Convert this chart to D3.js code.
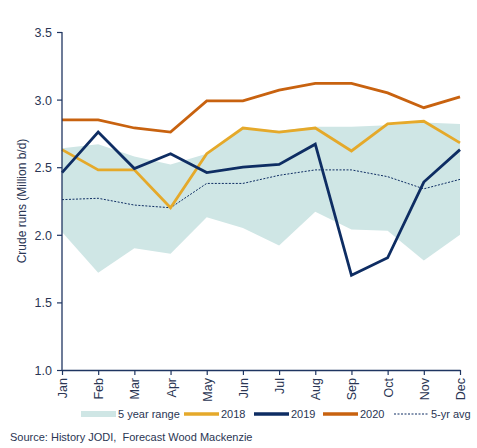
<!DOCTYPE html>
<html>
<head>
<meta charset="utf-8">
<script src="https://cdn.jsdelivr.net/npm/d3@7"></script>
<style>
  body { margin: 0; background: #fff; overflow: hidden; }
  svg { display: block; font-family: "Liberation Sans", Arial, sans-serif; }
</style>
</head>
<body>
<svg width="477" height="448"></svg>
<script>
const months = ['Jan', 'Feb', 'Mar', 'Apr', 'May', 'Jun', 'Jul', 'Aug', 'Sep', 'Oct', 'Nov', 'Dec'];
const rangeLow = [2.02, 1.72, 1.90, 1.86, 2.13, 2.05, 1.92, 2.17, 2.04, 2.03, 1.81, 2.00];
const rangeHigh = [2.64, 2.67, 2.58, 2.52, 2.60, 2.79, 2.77, 2.80, 2.80, 2.81, 2.83, 2.82];
const y2018 = [2.63, 2.48, 2.48, 2.20, 2.60, 2.79, 2.76, 2.79, 2.62, 2.82, 2.84, 2.68];
const y2019 = [2.46, 2.76, 2.49, 2.60, 2.46, 2.50, 2.52, 2.67, 1.70, 1.83, 2.39, 2.63];
const y2020 = [2.85, 2.85, 2.79, 2.76, 2.99, 2.99, 3.07, 3.12, 3.12, 3.05, 2.94, 3.02];
const avg5 = [2.26, 2.27, 2.22, 2.20, 2.38, 2.38, 2.44, 2.48, 2.48, 2.43, 2.34, 2.41];
const yTicks = [1.0, 1.5, 2.0, 2.5, 3.0, 3.5];

const svg = d3.select('svg');
const width = +svg.attr('width');
const height = +svg.attr('height');
const margin = { top: 32, right: 17, bottom: 78, left: 62 };
const innerWidth = width - margin.left - margin.right;
const innerHeight = height - margin.top - margin.bottom;

const navy = '#0e2d63';
const axisColor = '#1f3561';
const textColor = '#2a3553';
const font = '"Liberation Sans", Arial, sans-serif';

const xScale = d3.scalePoint().domain(months).range([0, innerWidth]);
const yScale = d3.scaleLinear().domain([1, 3.5]).range([innerHeight, 0]);

const g = svg.append('g')
  .attr('transform', `translate(${margin.left},${margin.top})`);

// 5 year range band
const band = d3.area()
  .x((d, i) => xScale(months[i]))
  .y0((d, i) => yScale(rangeLow[i]))
  .y1((d, i) => yScale(rangeHigh[i]));

g.append('path')
  .datum(months)
  .attr('d', band)
  .attr('fill', '#cfe6e5');

const line = d3.line().x((d, i) => xScale(months[i])).y(d => yScale(d));

g.append('path').datum(avg5).attr('d', line)
  .attr('fill', 'none').attr('stroke', navy).attr('stroke-width', 1)
  .attr('stroke-dasharray', '2,1.5');

const series = [
  { values: y2018, color: '#e5a92a' },
  { values: y2019, color: navy },
  { values: y2020, color: '#c8620f' }
];

series.forEach(s => {
  g.append('path').datum(s.values).attr('d', line)
    .attr('fill', 'none').attr('stroke', s.color).attr('stroke-width', 2.8);
});

// axes
const yAxisG = g.append('g')
  .call(d3.axisLeft(yScale).tickValues(yTicks).tickFormat(d3.format('.1f')).tickSize(5).tickPadding(5));
const xAxisG = g.append('g')
  .attr('transform', `translate(0,${innerHeight})`)
  .call(d3.axisBottom(xScale).tickSize(5).tickSizeOuter(0));

[yAxisG, xAxisG].forEach(a => {
  a.attr('font-family', font).attr('font-size', 12.5);
  a.selectAll('.domain').attr('stroke', axisColor).attr('stroke-width', 1.3);
  a.selectAll('.tick line').attr('stroke', axisColor).attr('stroke-width', 1.2);
  a.selectAll('text').attr('fill', textColor);
});

yAxisG.select('.domain').attr('d', `M0,0V${innerHeight}`);
yAxisG.selectAll('.tick text').attr('dy', null).attr('y', 4.5);

xAxisG.selectAll('.tick text')
  .attr('transform', 'rotate(-90)')
  .attr('text-anchor', 'end')
  .attr('x', -8)
  .attr('y', 4.5)
  .attr('dy', null);

svg.append('text')
  .attr('transform', `translate(26,${margin.top + innerHeight / 2}) rotate(-90)`)
  .attr('text-anchor', 'middle')
  .attr('fill', textColor)
  .attr('font-size', 12)
  .text('Crude runs (Million b/d)');

// legend
const legendY = 414;
const legend = [
  { label: '5 year range', x: 81, color: '#cfe6e5', width: 6 },
  { label: '2018', x: 184, color: '#e5a92a', width: 3.5 },
  { label: '2019', x: 254, color: navy, width: 3.5 },
  { label: '2020', x: 323, color: '#c8620f', width: 3.5 },
  { label: '5-yr avg', x: 394, color: navy, width: 1, dash: '2,1.5' }
];
legend.forEach(l => {
  svg.append('line')
    .attr('x1', l.x).attr('x2', l.x + 35)
    .attr('y1', legendY).attr('y2', legendY)
    .attr('stroke', l.color).attr('stroke-width', l.width)
    .attr('stroke-dasharray', l.dash || null);
  svg.append('text')
    .attr('x', l.x + 37).attr('y', legendY + 4)
    .attr('fill', textColor)
    .attr('font-size', 11)
    .text(l.label);
});

svg.append('text')
  .attr('x', 10).attr('y', 441)
  .attr('fill', textColor)
  .attr('font-size', 11)
  .style('white-space', 'pre')
  .text('Source: History JODI,  Forecast Wood Mackenzie');
</script>
</body>
</html>
